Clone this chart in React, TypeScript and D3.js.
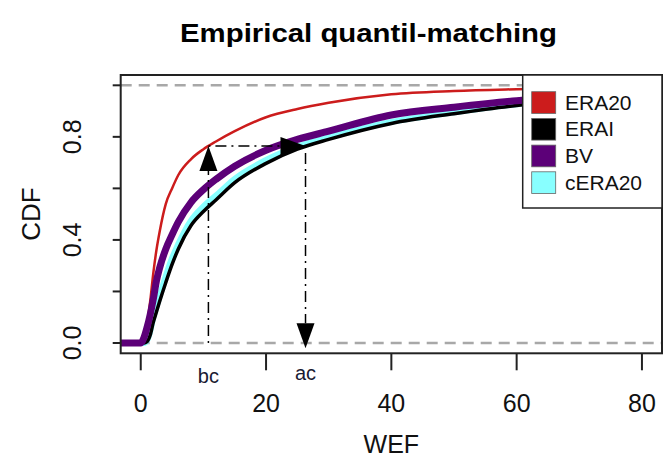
import * as d3 from "d3";

// WEF grid shared by the four empirical CDF curves
const wefGrid = [-4, 0, 0.5, 1, 1.5, 2, 2.5, 3, 4, 5, 6, 8, 10, 12, 15, 20, 25, 30, 40, 50, 60, 70, 84];

const era20Cdf = [0, 0, 0.02, 0.07, 0.16, 0.27, 0.36, 0.43, 0.54, 0.6, 0.652, 0.713, 0.752, 0.782, 0.822, 0.876, 0.908, 0.932, 0.965, 0.978, 0.985, 0.99, 0.994];
const eraiCdf = [0, 0, 0, 0.005, 0.03, 0.08, 0.12, 0.16, 0.235, 0.305, 0.365, 0.455, 0.51, 0.555, 0.622, 0.697, 0.752, 0.79, 0.852, 0.89, 0.922, 0.942, 0.958];
const bvCdf = [0, 0, 0.02, 0.06, 0.11, 0.17, 0.24, 0.29, 0.365, 0.42, 0.47, 0.545, 0.595, 0.635, 0.686, 0.748, 0.79, 0.822, 0.885, 0.915, 0.94, 0.955, 0.968];
const cera20Cdf = [0, 0, 0, 0.01, 0.045, 0.1, 0.14, 0.18, 0.26, 0.33, 0.385, 0.475, 0.53, 0.572, 0.637, 0.71, 0.762, 0.798, 0.858, 0.895, 0.926, 0.946, 0.96];

const legendNames = ["ERA20", "ERAI", "BV", "cERA20"];
const legendColors = ["#cc1c1c", "#000000", "#5c0078", "#88ffff"];

const xTicks = [0, 20, 40, 60, 80];
const yTicks = [0, 0.2, 0.4, 0.6, 0.8, 1];
const yLabels = [0, 0.4, 0.8];

// quantile matching example
const bcValue = 10.8;
const acValue = 26.3;
const matchedCdf = 0.764;

const W = 667;
const H = 458;
const plot = { left: 120.7, right: 662, top: 75, bottom: 353.3 };
const font = "'Liberation Sans', Arial, Helvetica, sans-serif";

const x = d3.scaleLinear().domain([-3.2, 83.2]).range([plot.left, plot.right]);
const y = d3.scaleLinear().domain([-0.04, 1.04]).range([plot.bottom, plot.top]);

const lineGen = d3
  .line<[number, number]>()
  .x((d) => x(d[0]))
  .y((d) => y(d[1]))
  .curve(d3.curveMonotoneX);

const toPts = (vals: number[]) => wefGrid.map((w, i) => [w, vals[i]] as [number, number]);

// draw order: cyan under black, purple on top
const curves = [
  { vals: cera20Cdf, color: legendColors[3], width: 6 },
  { vals: eraiCdf, color: legendColors[1], width: 3.5 },
  { vals: era20Cdf, color: legendColors[0], width: 2.5 },
  { vals: bvCdf, color: legendColors[2], width: 7 },
];

const dashDot = "2,5,11,5";
const headLen = 25;
const headHalf = 9;

const arrowHead = (tx: number, ty: number, dir: "up" | "down" | "right") => {
  if (dir === "up")
    return `M${tx},${ty} L${tx - headHalf},${ty + headLen} L${tx + headHalf},${ty + headLen} Z`;
  if (dir === "down")
    return `M${tx},${ty} L${tx - headHalf},${ty - headLen} L${tx + headHalf},${ty - headLen} Z`;
  return `M${tx},${ty} L${tx - headLen},${ty - headHalf} L${tx - headLen},${ty + headHalf} Z`;
};

const App = () => {
  const bx = x(bcValue);
  const ax = x(acValue);
  const my = y(matchedCdf);
  const zeroY = y(-0.02);

  return (
    <div>
      <style>{`body{margin:0;}`}</style>
      <svg width={W} height={H} style={{ display: "block", background: "#fff" }} fontFamily={font}>
        <defs>
          <clipPath id="plotclip">
            <rect x={plot.left} y={plot.top} width={plot.right - plot.left} height={plot.bottom - plot.top} />
          </clipPath>
        </defs>

        {/* title */}
        <text x={368.5} y={42} textAnchor="middle" fontWeight="bold" fontSize={25} textLength={377} lengthAdjust="spacingAndGlyphs">
          Empirical quantil-matching
        </text>

        <g clipPath="url(#plotclip)">
          {[0, 1].map((v) => (
            <line key={v} x1={plot.left} x2={plot.right} y1={y(v)} y2={y(v)} stroke="#a8a8a8" strokeWidth={2.5} strokeDasharray="11,7" />
          ))}
          {curves.map((c, i) => (
            <path key={i} d={lineGen(toPts(c.vals)) ?? ""} fill="none" stroke={c.color} strokeWidth={c.width} strokeLinejoin="round" />
          ))}

          {/* up arrow at bc */}
          <line x1={bx} x2={bx} y1={y(0)} y2={my + headLen} stroke="#000" strokeWidth={1.5} strokeDasharray={dashDot} />
          <path d={arrowHead(bx, my, "up")} fill="#000" />
          {/* across to ac */}
          <line x1={bx} x2={ax - headLen} y1={my} y2={my} stroke="#000" strokeWidth={1.5} strokeDasharray={dashDot} />
          <path d={arrowHead(ax, my, "right")} fill="#000" />
          {/* down to axis */}
          <line x1={ax} x2={ax} y1={my} y2={zeroY - headLen} stroke="#000" strokeWidth={1.5} strokeDasharray={dashDot} />
          <path d={arrowHead(ax, zeroY, "down")} fill="#000" />
        </g>

        {/* box */}
        <rect x={plot.left} y={plot.top} width={plot.right - plot.left} height={plot.bottom - plot.top} fill="none" stroke="#222" strokeWidth={2} />

        {/* x axis */}
        {xTicks.map((t) => (
          <g key={t}>
            <line x1={x(t)} x2={x(t)} y1={plot.bottom} y2={plot.bottom + 17} stroke="#222" strokeWidth={2} />
            <text x={x(t)} y={412} textAnchor="middle" fontSize={25} fill="#111">
              {t}
            </text>
          </g>
        ))}
        <text x={bx} y={383} textAnchor="middle" fontSize={20} fill="#1a1a33">bc</text>
        <text x={ax} y={380} textAnchor="middle" fontSize={20} fill="#1a1a33">ac</text>
        <text x={(plot.left + plot.right) / 2} y={453} textAnchor="middle" fontSize={25} fill="#111">WEF</text>

        {/* y axis */}
        {yTicks.map((t) => (
          <line key={t} x1={plot.left - 8} x2={plot.left} y1={y(t)} y2={y(t)} stroke="#222" strokeWidth={2} />
        ))}
        {yLabels.map((t) => (
          <text key={t} transform={`translate(81,${y(t)}) rotate(-90)`} textAnchor="middle" fontSize={25} fill="#111">
            {d3.format(".1f")(t)}
          </text>
        ))}
        <text transform={`translate(40,${(plot.top + plot.bottom) / 2}) rotate(-90)`} textAnchor="middle" fontSize={26} fill="#111">
          CDF
        </text>

        {/* legend */}
        <rect x={522.7} y={plot.top} width={plot.right - 522.7} height={133} fill="#fff" stroke="#222" strokeWidth={1.5} />
        {legendNames.map((n, i) => (
          <g key={n} transform={`translate(531.7,${91.7 + i * 26.7})`}>
            <rect width={24} height={21.7} fill={legendColors[i]} stroke="#666" strokeWidth={0.8} />
            <text x={33.3} y={18} fontSize={21} fill="#111">
              {n}
            </text>
          </g>
        ))}
      </svg>
    </div>
  );
};

export default App;
